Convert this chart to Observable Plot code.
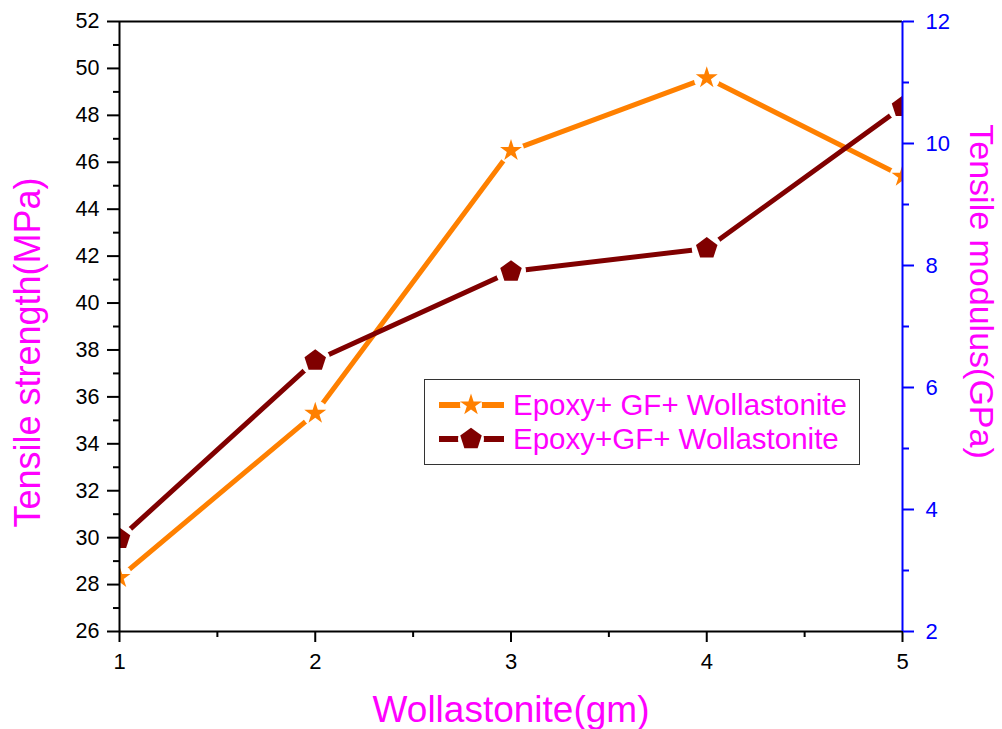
<!DOCTYPE html>
<html>
<head>
<meta charset="utf-8">
<script src="https://cdn.jsdelivr.net/npm/d3@7"></script>
<script src="https://cdn.jsdelivr.net/npm/@observablehq/plot@0.6"></script>
<style>
html, body { margin: 0; padding: 0; background: #fff; }
#wrap { position: relative; width: 1002px; height: 729px; font-family: "Liberation Sans", Arial, sans-serif; }
#legend { position: absolute; left: 424px; top: 379px; width: 434px; height: 84px; border: 1.5px solid #333; background: #fff; }
.row { position: absolute; left: 0; height: 34px; width: 100%; }
.row svg { position: absolute; left: 13px; top: 0; }
.row span { position: absolute; left: 88px; top: 0; line-height: 34px; font-size: 29.5px; color: #FF00FF; white-space: nowrap; }
</style>
</head>
<body>
<div id="wrap"></div>
<script>
// ---- data ----
const wollastonite = [1, 2, 3, 4, 5];
const tensileStrength = [28.3, 35.3, 46.5, 49.6, 45.4];   // MPa (left axis)
const tensileModulus = [3.52, 6.44, 7.90, 8.28, 10.6];     // GPa (right axis)
const seriesNames = ["Epoxy+ GF+ Wollastonite", "Epoxy+GF+ Wollastonite"];
const xMajorTicks = [1, 2, 3, 4, 5];
const xMinorTicks = [1.5, 2.5, 3.5, 4.5];
const strengthMajorTicks = [26, 28, 30, 32, 34, 36, 38, 40, 42, 44, 46, 48, 50, 52];
const strengthMinorTicks = [27, 29, 31, 33, 35, 37, 39, 41, 43, 45, 47, 49, 51];
const modulusMajorTicks = [2, 4, 6, 8, 10, 12];
const modulusMinorTicks = [3, 5, 7, 9, 11];
const xLabel = "Wollastonite(gm)";
const yLeftLabel = "Tensile strength(MPa)";
const yRightLabel = "Tensile modulus(GPa)";

// ---- styles ----
const ORANGE = "#FF8000", DARKRED = "#800000", MAGENTA = "#FF00FF", BLUE = "#0000FF";
const leftDomain = [26, 52], rightDomain = [2, 12];
const toLeft = g => leftDomain[0] + (g - rightDomain[0]) * (leftDomain[1] - leftDomain[0]) / (rightDomain[1] - rightDomain[0]);
const fromLeft = v => rightDomain[0] + (v - leftDomain[0]) * (rightDomain[1] - rightDomain[0]) / (leftDomain[1] - leftDomain[0]);

const pentagon = {
  draw(context, size) {
    const R = Math.sqrt(size / Math.PI);
    for (let k = 0; k < 5; ++k) {
      const a = -Math.PI / 2 + k * 2 * Math.PI / 5;
      const px = R * Math.cos(a), py = R * Math.sin(a);
      if (k === 0) context.moveTo(px, py); else context.lineTo(px, py);
    }
    context.closePath();
  }
};

const strengthData = wollastonite.map((x, i) => ({x, y: tensileStrength[i]}));
const modulusData = wollastonite.map((x, i) => ({x, y: toLeft(tensileModulus[i])}));

const chart = Plot.plot({
  width: 1002,
  height: 729,
  marginLeft: 119,
  marginRight: 100,
  marginTop: 21,
  marginBottom: 98,
  style: {fontFamily: '"Liberation Sans", Arial, sans-serif', background: "white", color: "black"},
  x: {domain: [1, 5], axis: null},
  y: {domain: leftDomain, axis: null},
  marks: [
    Plot.line(strengthData, {x: "x", y: "y", stroke: ORANGE, strokeWidth: 5, clip: true}),
    Plot.line(modulusData, {x: "x", y: "y", stroke: DARKRED, strokeWidth: 5, clip: true}),
    Plot.dot(strengthData, {x: "x", y: "y", r: 13, fill: "white", stroke: null, clip: true}),
    Plot.dot(modulusData, {x: "x", y: "y", r: 15, fill: "white", stroke: null, clip: true}),
    Plot.dot(strengthData, {x: "x", y: "y", r: 6.9, symbol: "star", fill: ORANGE, stroke: null, clip: true}),
    Plot.dot(modulusData, {x: "x", y: "y", r: 11.3, symbol: pentagon, fill: DARKRED, stroke: null, clip: true}),
    Plot.ruleY([leftDomain[0]], {stroke: "black", strokeWidth: 2}),
    Plot.ruleY([leftDomain[1]], {stroke: "black", strokeWidth: 2}),
    Plot.ruleX([1], {stroke: "black", strokeWidth: 2}),
    Plot.ruleX([5], {stroke: BLUE, strokeWidth: 2}),
    Plot.axisX(xMajorTicks, {anchor: "bottom", tickSize: 11, tickPadding: 11, fontSize: 22, strokeWidth: 2, tickFormat: d => String(d), label: null}),
    Plot.axisX(xMinorTicks, {anchor: "bottom", tickSize: 6, tickFormat: () => "", strokeWidth: 2, label: null}),
    Plot.axisY(strengthMajorTicks, {anchor: "left", tickSize: 12, tickPadding: 8, fontSize: 21.5, strokeWidth: 2, tickFormat: d => String(d), label: null}),
    Plot.axisY(strengthMinorTicks, {anchor: "left", tickSize: 6, tickFormat: () => "", strokeWidth: 2, label: null}),
    Plot.axisY(modulusMajorTicks.map(toLeft), {anchor: "right", tickSize: 11, tickPadding: 12, fontSize: 22, strokeWidth: 2, stroke: BLUE, fill: BLUE, tickFormat: d => String(Math.round(fromLeft(d))), label: null}),
    Plot.axisY(modulusMinorTicks.map(toLeft), {anchor: "right", tickSize: 6, tickFormat: () => "", strokeWidth: 2, stroke: BLUE, fill: BLUE, label: null}),
    Plot.text([xLabel], {text: d => d, frameAnchor: "bottom", dy: 79, textAnchor: "middle", lineAnchor: "middle", fontSize: 37, fill: MAGENTA}),
    Plot.text([yLeftLabel], {text: d => d, frameAnchor: "left", dx: -91, dy: 26, textAnchor: "middle", rotate: -90, fontSize: 36, fill: MAGENTA}),
    Plot.text([yRightLabel], {text: d => d, frameAnchor: "right", dx: 78, dy: -35, textAnchor: "middle", rotate: 90, fontSize: 34, fill: MAGENTA})
  ]
});

const wrap = document.getElementById("wrap");
wrap.appendChild(chart);

// ---- legend ----
const legend = document.createElement("div");
legend.id = "legend";
wrap.appendChild(legend);
const legendItems = [
  {name: seriesNames[0], color: ORANGE, symbol: d3.symbolStar, size: Math.PI * 6.9 * 6.9, halo: 11},
  {name: seriesNames[1], color: DARKRED, symbol: pentagon, size: Math.PI * 11.3 * 11.3, halo: 13}
];
legendItems.forEach((item, i) => {
  const row = document.createElement("div");
  row.className = "row";
  row.style.top = (i === 0 ? 8 : 42) + "px";
  const svg = d3.create("svg").attr("width", 66).attr("height", 34);
  svg.append("line").attr("x1", 1).attr("x2", 66).attr("y1", 17).attr("y2", 17)
    .attr("stroke", item.color).attr("stroke-width", 6);
  svg.append("circle").attr("cx", 33).attr("cy", 17).attr("r", item.halo).attr("fill", "white");
  svg.append("path").attr("transform", "translate(33,17)")
    .attr("d", d3.symbol(item.symbol, item.size)()).attr("fill", item.color);
  row.appendChild(svg.node());
  const span = document.createElement("span");
  span.textContent = item.name;
  row.appendChild(span);
  legend.appendChild(row);
});
</script>
</body>
</html>
